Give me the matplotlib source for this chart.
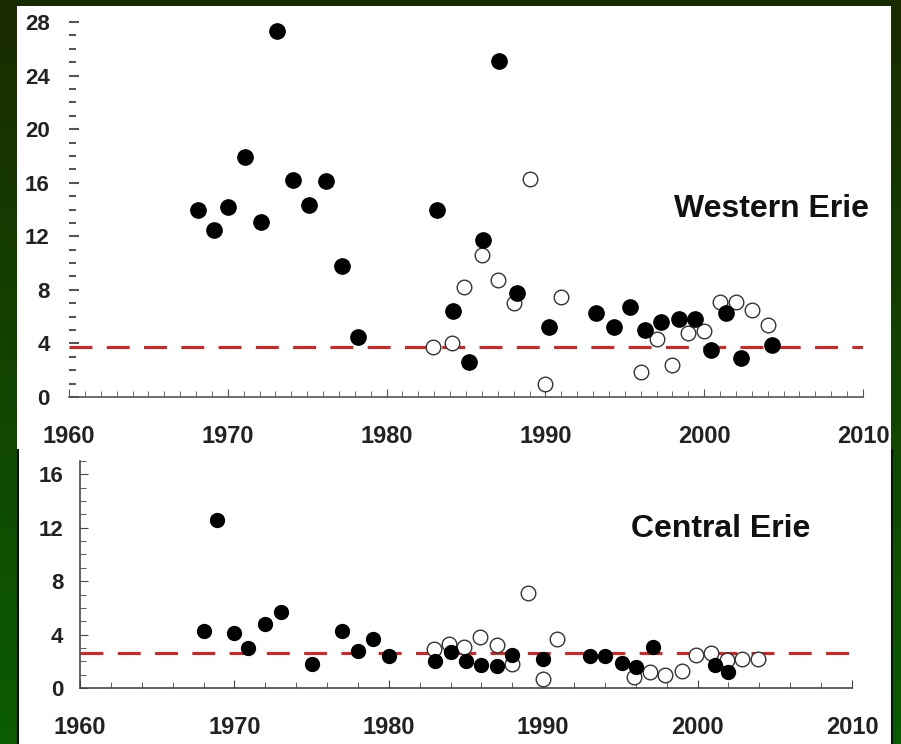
import numpy as np
import matplotlib
matplotlib.use("Agg")
import matplotlib.pyplot as plt
from matplotlib.patches import Rectangle
from matplotlib.ticker import MultipleLocator

# Western Erie (top panel)
west_filled_year = [1968.1, 1969.1, 1970.0, 1971.1, 1972.1, 1973.1, 1974.1, 1975.1, 1976.2,
                    1977.2, 1978.2, 1983.2, 1984.2, 1985.2, 1986.1, 1987.1, 1988.2, 1990.2,
                    1993.2, 1994.3, 1995.3, 1996.3, 1997.3, 1998.4, 1999.4, 2000.4, 2001.4,
                    2002.3, 2004.3]
west_filled_val = [14.0, 12.5, 14.2, 17.9, 13.1, 27.3, 16.2, 14.3, 16.1,
                   9.8, 4.5, 14.0, 6.4, 2.6, 11.7, 25.1, 7.8, 5.2,
                   6.3, 5.2, 6.7, 5.0, 5.6, 5.8, 5.8, 3.5, 6.3,
                   2.9, 3.9]
west_open_year = [1982.9, 1984.1, 1984.9, 1986.0, 1987.0, 1988.0, 1989.0, 1990.0, 1991.0,
                  1996.0, 1997.0, 1998.0, 1999.0, 2000.0, 2001.0, 2002.0, 2003.0, 2004.0]
west_open_val = [3.7, 4.0, 8.2, 10.6, 8.7, 7.0, 16.3, 1.0, 7.5,
                 1.9, 4.3, 2.4, 4.8, 4.9, 7.1, 7.1, 6.5, 5.4]
west_ref = 3.7

# Central Erie (bottom panel)
cent_filled_year = [1968.0, 1968.9, 1970.0, 1970.9, 1972.0, 1973.0, 1975.0, 1977.0, 1978.0,
                    1979.0, 1980.0, 1983.0, 1984.0, 1985.0, 1986.0, 1987.0, 1988.0, 1990.0,
                    1993.0, 1994.0, 1995.1, 1996.0, 1997.1, 2001.1, 2002.0]
cent_filled_val = [4.3, 12.6, 4.1, 3.0, 4.8, 5.7, 1.8, 4.3, 2.8,
                   3.7, 2.4, 2.0, 2.7, 2.0, 1.7, 1.65, 2.5, 2.2,
                   2.4, 2.4, 1.9, 1.6, 3.1, 1.7, 1.2]
cent_open_year = [1982.9, 1983.9, 1984.9, 1985.9, 1987.0, 1988.0, 1989.0, 1990.0, 1990.9,
                  1995.9, 1996.9, 1997.9, 1999.0, 1999.9, 2000.9, 2001.9, 2002.9, 2003.9]
cent_open_val = [2.9, 3.3, 3.1, 3.8, 3.2, 1.8, 7.1, 0.7, 3.7,
                 0.85, 1.2, 1.0, 1.3, 2.5, 2.6, 2.1, 2.2, 2.2]
cent_ref = 2.6

W, H = 901, 744
fig = plt.figure(figsize=(W / 100, H / 100), dpi=100)

# dark green slide background with white panels
bg = fig.add_axes([0, 0, 1, 1], zorder=-5)
top_c = np.array([0x1a, 0x2b, 0x00]) / 255
bot_c = np.array([0x0a, 0x5c, 0x02]) / 255
t = np.linspace(0, 1, 256)[:, None]
grad = top_c[None, :] * (1 - t) + bot_c[None, :] * t
bg.imshow(grad[:, None, :], extent=[0, W, H, 0], aspect="auto")
bg.add_patch(Rectangle((17, 6), 874, 444, facecolor="white", edgecolor="none"))
bg.add_patch(Rectangle((18, 450), 874, 300, facecolor="white", edgecolor="none"))
bg.plot([18, 18], [450, 744], color="#111111", lw=1.5)
bg.plot([892, 892], [450, 744], color="#111111", lw=1.5)
bg.set_xlim(0, W)
bg.set_ylim(H, 0)
bg.axis("off")

tick_font = dict(family="Liberation Sans", weight="bold")

# top panel
ax1 = fig.add_axes([69 / W, 1 - 397 / H, 794 / W, 375 / H], zorder=1)
ax1.set_facecolor("none")
ax1.axhline(west_ref, color="#d92222", lw=2.2, dashes=(7.5, 4.7), zorder=1)
ax1.plot(west_open_year, west_open_val, "o", ms=10.5, mfc="white", mec="#333333", mew=1.0,
         zorder=2, clip_on=False)
ax1.plot(west_filled_year, west_filled_val, "o", ms=11, color="black", zorder=3, clip_on=False)
ax1.set_xlim(1960, 2010)
ax1.set_ylim(0, 28)
for s in ["top", "right", "left"]:
    ax1.spines[s].set_visible(False)
ax1.spines["bottom"].set_color("#555555")
ax1.spines["bottom"].set_linewidth(1.2)
ax1.xaxis.set_major_locator(MultipleLocator(10))
ax1.xaxis.set_minor_locator(MultipleLocator(1))
ax1.yaxis.set_major_locator(MultipleLocator(4))
ax1.yaxis.set_minor_locator(MultipleLocator(1))
ax1.tick_params(axis="x", which="both", direction="in", color="#555555", pad=20)
ax1.tick_params(axis="x", which="major", length=6)
ax1.tick_params(axis="x", which="minor", length=4)
ax1.tick_params(axis="y", which="both", direction="in", color="#555555", pad=14)
ax1.tick_params(axis="y", which="major", length=7, width=1.5)
ax1.tick_params(axis="y", which="minor", length=5, width=1.5)
for lab in ax1.get_xticklabels():
    lab.set(fontsize=17, color="#222222", **tick_font)
for lab in ax1.get_yticklabels():
    lab.set(fontsize=16, color="#222222", **tick_font)
fig.text(772 / W, 1 - 217 / H, "Western Erie", ha="center", va="baseline",
         fontsize=23, family="Liberation Sans", weight="bold", color="#111111")

# bottom panel
ax2 = fig.add_axes([80 / W, 1 - 688 / H, 772 / W, 227 / H], zorder=1)
ax2.set_facecolor("none")
ax2.axhline(cent_ref, color="#d92222", lw=2.2, dashes=(7.5, 4.7), zorder=1)
ax2.plot(cent_open_year, cent_open_val, "o", ms=10.5, mfc="white", mec="#333333", mew=1.0,
         zorder=2, clip_on=False)
ax2.plot(cent_filled_year, cent_filled_val, "o", ms=10, color="black", zorder=3, clip_on=False)
ax2.set_xlim(1960, 2010)
ax2.set_ylim(0, 17)
for s in ["top", "right"]:
    ax2.spines[s].set_visible(False)
for s in ["bottom", "left"]:
    ax2.spines[s].set_color("#444444")
    ax2.spines[s].set_linewidth(1.2)
ax2.xaxis.set_major_locator(MultipleLocator(10))
ax2.xaxis.set_minor_locator(MultipleLocator(2))
ax2.yaxis.set_major_locator(MultipleLocator(4))
ax2.yaxis.set_minor_locator(MultipleLocator(1))
ax2.tick_params(axis="x", which="both", direction="in", color="#444444", pad=20)
ax2.tick_params(axis="x", which="major", length=6)
ax2.tick_params(axis="x", which="minor", length=4)
ax2.tick_params(axis="y", which="both", direction="in", color="#444444", pad=12)
ax2.tick_params(axis="y", which="major", length=6)
ax2.tick_params(axis="y", which="minor", length=4)
for lab in ax2.get_xticklabels():
    lab.set(fontsize=17, color="#222222", **tick_font)
for lab in ax2.get_yticklabels():
    lab.set(fontsize=16, color="#222222", **tick_font)
fig.text(721 / W, 1 - 537 / H, "Central Erie", ha="center", va="baseline",
         fontsize=23, family="Liberation Sans", weight="bold", color="#111111")

fig.savefig("out.png", dpi=100)
